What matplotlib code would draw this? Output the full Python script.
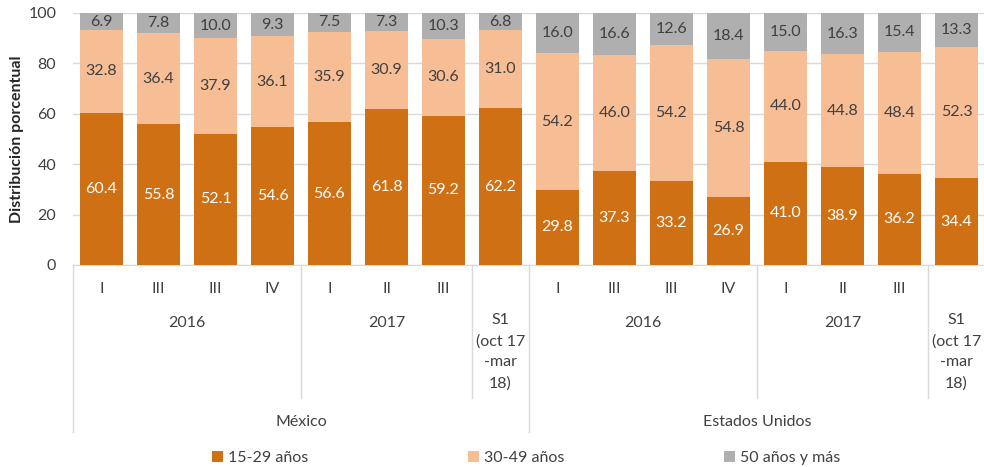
import matplotlib
matplotlib.use("Agg")
import matplotlib.pyplot as plt
from matplotlib.patches import Patch
import numpy as np

plt.rcParams['font.family'] = ['Lato', 'DejaVu Sans']

quarters = ["I", "III", "III", "IV", "I", "II", "III", "",
            "I", "III", "III", "IV", "I", "II", "III", ""]
years = [("2016", 0, 3), ("2017", 4, 6), ("S1\n(oct 17\n-mar\n18)", 7, 7),
         ("2016", 8, 11), ("2017", 12, 14), ("S1\n(oct 17\n-mar\n18)", 15, 15)]
countries = [("México", 0, 7), ("Estados Unidos", 8, 15)]

age_15_29 = [60.4, 55.8, 52.1, 54.6, 56.6, 61.8, 59.2, 62.2,
             29.8, 37.3, 33.2, 26.9, 41.0, 38.9, 36.2, 34.4]
age_30_49 = [32.8, 36.4, 37.9, 36.1, 35.9, 30.9, 30.6, 31.0,
             54.2, 46.0, 54.2, 54.8, 44.0, 44.8, 48.4, 52.3]
age_50 = [6.9, 7.8, 10.0, 9.3, 7.5, 7.3, 10.3, 6.8,
          16.0, 16.6, 12.6, 18.4, 15.0, 16.3, 15.4, 13.3]
series_names = ["15-29 años", "30-49 años", "50 años y más"]

colors = ["#D07014", "#F7BE96", "#AFAFAF"]
label_colors = ["white", "#404040", "#404040"]
txt = "#404040"
grid_c = "#D9D9D9"
fs = 11.5

W, H = 984, 467
fig = plt.figure(figsize=(W / 100, H / 100), dpi=100)
ax_left, ax_right, ax_top, ax_bot = 73, 985, 13, 265
ax = fig.add_axes([ax_left / W, 1 - ax_bot / H, (ax_right - ax_left) / W, (ax_bot - ax_top) / H])

x = np.arange(len(age_15_29))
bw = 0.77
bottom = np.zeros(len(x))
for vals, c, lc in zip([age_15_29, age_30_49, age_50], colors, label_colors):
    vals = np.array(vals)
    ax.bar(x, vals, bw, bottom=bottom, color=c, zorder=3)
    for xi, b, v in zip(x, bottom, vals):
        top = min(b + v, 100)
        ax.text(xi, (b + top) / 2, f"{v:.1f}", ha="center", va="center", color=lc,
                fontsize=fs, zorder=4)
    bottom += vals

ax.set_xlim(-0.5, len(x) - 0.5)
ax.set_ylim(0, 100)
ax.set_yticks(range(0, 101, 20))
ax.tick_params(axis="y", length=0, labelsize=fs, labelcolor=txt, pad=12)
ax.set_xticks([])
ax.yaxis.grid(True, color=grid_c, lw=1, zorder=0)
for s in ["top", "right", "left"]:
    ax.spines[s].set_visible(False)
ax.spines["bottom"].set_color(grid_c)
ax.set_ylabel("Distribución porcentual", fontsize=fs, fontweight="bold", color="#262626", labelpad=3)

def ay(ypix):
    return (ax_bot - ypix) / (ax_bot - ax_top)

tr = ax.get_xaxis_transform()
for xi, q in zip(x, quarters):
    if q:
        ax.text(xi, ay(289), q, ha="center", va="center", transform=tr, fontsize=fs, color=txt)
for name, a, b in years:
    if "\n" in name:
        ax.text((a + b) / 2, ay(313), name, ha="center", va="top", transform=tr,
                fontsize=fs, color=txt, linespacing=1.62)
    else:
        ax.text((a + b) / 2, ay(323), name, ha="center", va="center", transform=tr,
                fontsize=fs, color=txt)
for name, a, b in countries:
    ax.text((a + b) / 2, ay(422), name, ha="center", va="center", transform=tr, fontsize=fs, color=txt)

# separators
short_sep = [3.5, 6.5, 11.5, 14.5]
long_sep = [-0.5, 7.5]
for s in short_sep:
    ax.plot([s, s], [0, ay(398)], transform=tr, color=grid_c, lw=1, clip_on=False)
for s in long_sep:
    ax.plot([s, s], [0, ay(432)], transform=tr, color=grid_c, lw=1, clip_on=False)

handles = [Patch(facecolor=c, edgecolor="none") for c in colors]
leg = fig.legend(handles, series_names, loc="center", bbox_to_anchor=(526 / W, 1 - 458 / H),
                 ncol=3, frameon=False, fontsize=fs, handlelength=0.7, handleheight=0.7,
                 handletextpad=0.3, columnspacing=10.0)
for t in leg.get_texts():
    t.set_color(txt)

fig.savefig("out.png", dpi=100)
